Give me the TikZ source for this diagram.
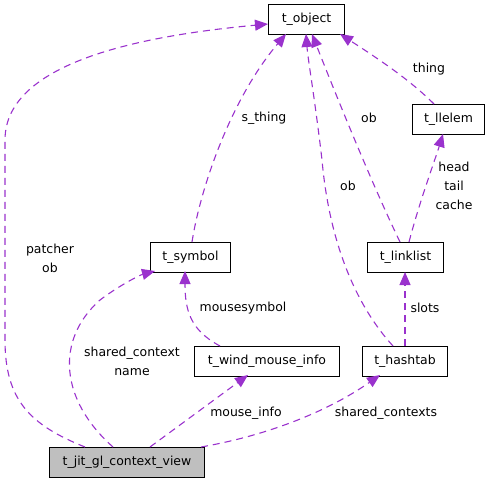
\documentclass[tikz,border=0pt]{standalone}
\usepackage{fontspec}
\setmainfont{DejaVu Sans}
\usetikzlibrary{arrows.meta}
\definecolor{edgec}{HTML}{9A32CD}
\begin{document}
\begin{tikzpicture}[x=1bp,y=-1bp,
  every node/.style={font=\fontsize{12.5}{15}\selectfont, inner sep=0pt},
  cls/.style={draw, line width=1pt, fill=white, minimum height=30bp, anchor=north west},
  lbl/.style={align=center, font=\fontsize{12.5}{19}\selectfont},
  rel/.style={draw=edgec, dash pattern=on 7bp off 5bp, line width=1.1pt, -{Triangle[length=13bp,width=11bp]}}]
\useasboundingbox (0,0) rectangle (489,485);
% nodes
\node[cls, minimum width=76bp] (obj) at (268,4) {t\_object};
\node[cls, minimum width=72bp] (llelem) at (412,104) {t\_llelem};
\node[cls, minimum width=80bp] (sym) at (150,242) {t\_symbol};
\node[cls, minimum width=76bp] (ll) at (367,242) {t\_linklist};
\node[cls, minimum width=145bp] (wmi) at (194,346) {t\_wind\_mouse\_info};
\node[cls, minimum width=85bp] (hash) at (362,346) {t\_hashtab};
\node[cls, minimum width=155bp, fill=black!25] (ctx) at (49,447) {t\_jit\_gl\_context\_view};
% edges
\draw[rel] (ctx.north west) ++(36,0) .. controls (30,425) and (5,400) .. (5,340)
  -- (5,140) .. controls (5,60) and (150,35) .. (obj.west |- 0,24);
\node[lbl] at (50,258) {patcher\\ob};
\draw[rel] (ctx.north west) ++(64,0) .. controls (60,400) and (55,340) .. (100,300) .. controls (120,285) and (140,275) .. (155,271);
\node[lbl] at (132,361) {shared\_context\\name};
\draw[rel] (wmi.north west) ++(26,0) .. controls (190,330) and (185,310) .. (185,271);
\node[lbl] at (243,308) {mousesymbol};
\draw[rel] (ctx.north west) ++(101,0) -- (248,375);
\node[lbl] at (246,413) {mouse\_info};
\draw[rel] (ctx.north east) ++(-4,0) .. controls (270,435) and (330,410) .. (380,375);
\node[lbl] at (386,413) {shared\_contexts};
\draw[rel] (sym.north west) ++(42,0) .. controls (200,190) and (230,100) .. (286,34);
\node[lbl] at (264,118) {s\_thing};
\draw[rel] (hash.north west) ++(31,0) .. controls (360,310) and (330,250) .. (322,160) .. controls (315,100) and (308,60) .. (306,34);
\node[lbl] at (348,186) {ob};
\draw[rel] (ll.north west) ++(33,0) .. controls (370,180) and (330,80) .. (312,34);
\node[lbl] at (369,118) {ob};
\draw[rel] (llelem.north west) ++(22,0) .. controls (410,80) and (380,60) .. (340,34);
\node[lbl] at (429,69) {thing};
\draw[rel] (ll.north west) ++(42,0) .. controls (420,200) and (435,160) .. (443,134);
\node[lbl] at (454,186) {head\\tail\\cache};
\draw[rel] (hash.north west) ++(43,0) -- (405,272);
\node[lbl] at (425,308) {slots};
\end{tikzpicture}
\end{document}
